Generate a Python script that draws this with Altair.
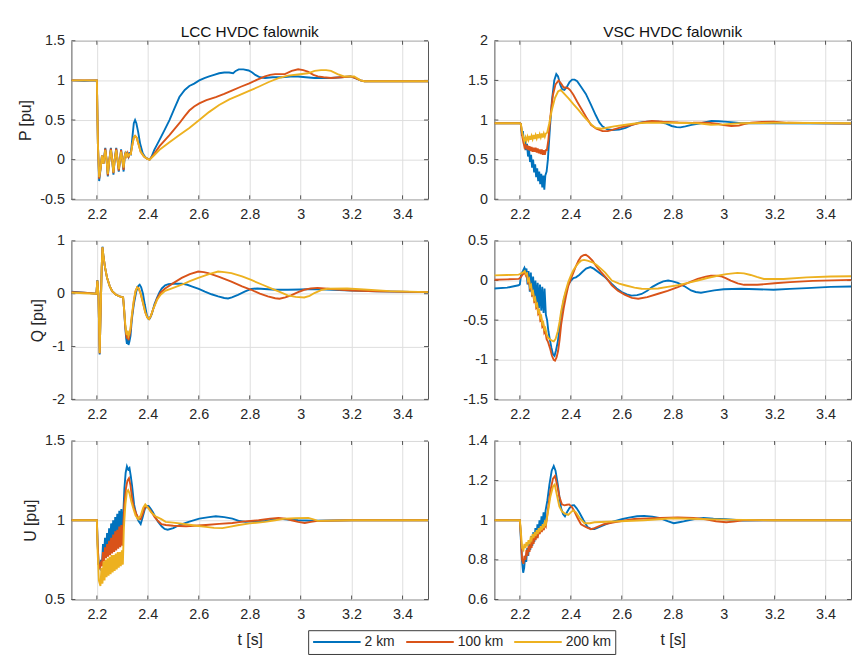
import altair as alt
import pandas as pd

# ---------------- data ----------------
SERIES = ["2 km", "100 km", "200 km"]
COLORS = ["#0072BD", "#D95319", "#EDB120"]
X_TICKS = [2.2, 2.4, 2.6, 2.8, 3.0, 3.2, 3.4]

# Active power, LCC inverter
P_LCC_2 = [(2.1,1.0),(2.15,0.995),(2.2,1.0),(2.204,0.2),(2.209,-0.27),(2.215,-0.1),(2.22,0.05),(2.226,-0.05),(2.233,0.15),(2.238,0.0),(2.243,-0.21),(2.249,0.0),(2.255,0.15),(2.26,0.0),(2.265,-0.19),(2.27,0.0),(2.276,0.15),(2.281,0.0),(2.286,-0.15),(2.291,0.0),(2.295,0.13),(2.3,0.0),(2.305,-0.15),(2.309,0.04),(2.313,0.1),(2.317,0.03),(2.321,0.09),(2.325,0.04),(2.329,0.08),(2.333,0.07),(2.34,0.3),(2.345,0.46),(2.35,0.5),(2.355,0.46),(2.362,0.35),(2.37,0.2),(2.38,0.08),(2.39,0.03),(2.4,0.01),(2.407,0.0),(2.415,0.04),(2.425,0.12),(2.446,0.25),(2.465,0.37),(2.485,0.5),(2.505,0.65),(2.524,0.79),(2.545,0.88),(2.563,0.93),(2.582,0.96),(2.602,1.0),(2.622,1.03),(2.641,1.05),(2.66,1.07),(2.68,1.09),(2.7,1.1),(2.719,1.1),(2.735,1.09),(2.745,1.12),(2.757,1.14),(2.775,1.14),(2.796,1.125),(2.81,1.1),(2.822,1.07),(2.84,1.04),(2.86,1.03),(2.89,1.04),(2.925,1.04),(2.96,1.05),(2.99,1.05),(3.02,1.04),(3.054,1.03),(3.09,1.03),(3.119,1.03),(3.16,1.04),(3.196,1.05),(3.215,1.03),(3.235,1.0),(3.25,0.99),(3.3,0.99),(3.4,0.99),(3.5,0.99)]
P_LCC_100 = [(2.1,1.0),(2.2,1.0),(2.204,0.2),(2.209,-0.24),(2.215,-0.1),(2.22,0.05),(2.226,-0.05),(2.233,0.14),(2.238,0.0),(2.243,-0.2),(2.249,0.0),(2.255,0.14),(2.26,0.0),(2.265,-0.17),(2.27,0.0),(2.276,0.14),(2.281,0.0),(2.286,-0.14),(2.291,0.0),(2.295,0.12),(2.3,0.0),(2.305,-0.13),(2.309,0.04),(2.313,0.09),(2.317,0.03),(2.321,0.08),(2.325,0.04),(2.329,0.07),(2.333,0.07),(2.34,0.2),(2.345,0.28),(2.35,0.3),(2.356,0.28),(2.363,0.2),(2.372,0.1),(2.385,0.04),(2.398,0.01),(2.407,0.0),(2.42,0.05),(2.446,0.17),(2.485,0.31),(2.524,0.46),(2.545,0.55),(2.563,0.62),(2.582,0.67),(2.602,0.71),(2.63,0.75),(2.667,0.79),(2.7,0.83),(2.732,0.875),(2.765,0.92),(2.796,0.96),(2.83,1.01),(2.86,1.05),(2.88,1.07),(2.9,1.08),(2.938,1.08),(2.965,1.12),(2.99,1.14),(3.01,1.13),(3.028,1.11),(3.05,1.07),(3.067,1.05),(3.09,1.04),(3.119,1.03),(3.16,1.04),(3.196,1.05),(3.215,1.03),(3.235,1.0),(3.25,0.99),(3.5,0.99)]
P_LCC_200 = [(2.1,1.0),(2.2,1.0),(2.204,0.2),(2.209,-0.22),(2.215,-0.1),(2.22,0.05),(2.226,-0.05),(2.233,0.12),(2.238,0.0),(2.243,-0.18),(2.249,0.0),(2.255,0.12),(2.26,0.0),(2.265,-0.16),(2.27,0.0),(2.276,0.12),(2.281,0.0),(2.286,-0.12),(2.291,0.0),(2.295,0.1),(2.3,0.0),(2.305,-0.1),(2.309,0.04),(2.313,0.08),(2.317,0.04),(2.321,0.07),(2.325,0.05),(2.329,0.07),(2.333,0.07),(2.34,0.2),(2.345,0.28),(2.35,0.3),(2.356,0.28),(2.363,0.2),(2.372,0.1),(2.385,0.04),(2.398,0.01),(2.407,0.0),(2.42,0.04),(2.446,0.125),(2.485,0.22),(2.524,0.31),(2.563,0.4),(2.602,0.5),(2.64,0.6),(2.68,0.69),(2.72,0.76),(2.757,0.81),(2.8,0.87),(2.835,0.92),(2.875,0.98),(2.913,1.03),(2.95,1.06),(2.99,1.075),(3.028,1.09),(3.055,1.12),(3.08,1.13),(3.1,1.13),(3.119,1.12),(3.145,1.08),(3.17,1.05),(3.21,1.05),(3.235,1.0),(3.25,0.99),(3.5,0.99)]

# Active power, VSC inverter
P_VSC_2 = [(2.1,0.96),(2.2,0.96),(2.204,0.95),(2.208,0.8),(2.212,0.86),(2.216,0.7),(2.22,0.78),(2.224,0.62),(2.228,0.7),(2.232,0.54),(2.236,0.63),(2.24,0.47),(2.244,0.56),(2.248,0.4),(2.252,0.5),(2.256,0.34),(2.26,0.44),(2.264,0.28),(2.268,0.39),(2.272,0.23),(2.276,0.35),(2.28,0.19),(2.284,0.32),(2.288,0.15),(2.292,0.3),(2.296,0.12),(2.3,0.3),(2.305,0.35),(2.31,0.5),(2.318,0.9),(2.326,1.25),(2.335,1.5),(2.343,1.58),(2.35,1.55),(2.358,1.45),(2.366,1.39),(2.375,1.38),(2.385,1.42),(2.395,1.48),(2.405,1.51),(2.415,1.51),(2.425,1.49),(2.44,1.42),(2.459,1.33),(2.478,1.2),(2.498,1.06),(2.512,0.97),(2.524,0.92),(2.545,0.88),(2.563,0.875),(2.59,0.88),(2.615,0.9),(2.64,0.94),(2.667,0.967),(2.7,0.98),(2.744,0.98),(2.77,0.96),(2.796,0.925),(2.815,0.91),(2.83,0.908),(2.85,0.92),(2.874,0.94),(2.91,0.96),(2.952,0.99),(2.98,0.985),(3.004,0.98),(3.04,0.97),(3.069,0.96),(3.2,0.96),(3.5,0.955)]
P_VSC_100 = [(2.1,0.96),(2.2,0.96),(2.204,0.95),(2.209,0.8),(2.214,0.72),(2.218,0.66),(2.222,0.7),(2.226,0.63),(2.23,0.68),(2.234,0.62),(2.238,0.67),(2.242,0.61),(2.246,0.66),(2.25,0.6),(2.254,0.65),(2.258,0.6),(2.262,0.65),(2.266,0.59),(2.27,0.64),(2.274,0.58),(2.278,0.63),(2.282,0.57),(2.286,0.63),(2.29,0.56),(2.294,0.62),(2.298,0.56),(2.302,0.62),(2.306,0.62),(2.312,0.75),(2.32,1.05),(2.33,1.32),(2.34,1.45),(2.352,1.5),(2.362,1.46),(2.372,1.41),(2.38,1.41),(2.39,1.4),(2.398,1.375),(2.41,1.32),(2.425,1.23),(2.44,1.15),(2.46,1.04),(2.479,0.94),(2.5,0.89),(2.518,0.87),(2.524,0.86),(2.545,0.86),(2.563,0.875),(2.6,0.91),(2.641,0.94),(2.68,0.97),(2.718,0.99),(2.76,0.98),(2.822,0.97),(2.88,0.965),(2.939,0.967),(2.98,0.95),(3.0,0.935),(3.03,0.925),(3.06,0.93),(3.08,0.95),(3.108,0.967),(3.15,0.975),(3.198,0.98),(3.25,0.965),(3.5,0.955)]
P_VSC_200 = [(2.1,0.96),(2.2,0.96),(2.204,0.95),(2.209,0.85),(2.214,0.77),(2.218,0.73),(2.222,0.78),(2.226,0.74),(2.23,0.79),(2.234,0.75),(2.238,0.8),(2.242,0.75),(2.246,0.8),(2.25,0.76),(2.254,0.81),(2.258,0.76),(2.262,0.81),(2.266,0.77),(2.27,0.82),(2.274,0.77),(2.278,0.82),(2.282,0.78),(2.286,0.83),(2.29,0.78),(2.294,0.83),(2.298,0.79),(2.302,0.83),(2.307,0.84),(2.315,0.95),(2.325,1.12),(2.338,1.28),(2.35,1.36),(2.36,1.38),(2.372,1.34),(2.392,1.27),(2.41,1.2),(2.431,1.125),(2.45,1.05),(2.47,0.98),(2.485,0.93),(2.498,0.9),(2.52,0.89),(2.537,0.9),(2.57,0.92),(2.615,0.94),(2.66,0.96),(2.718,0.967),(2.8,0.965),(2.9,0.96),(2.95,0.94),(3.0,0.945),(3.069,0.96),(3.2,0.965),(3.5,0.96)]

# Reactive power, LCC inverter
Q_LCC_2 = [(2.1,0.04),(2.15,0.02),(2.198,0.0),(2.202,0.26),(2.206,0.0),(2.211,-1.15),(2.215,-0.3),(2.219,0.5),(2.222,0.89),(2.226,0.7),(2.232,0.5),(2.24,0.3),(2.25,0.15),(2.26,0.05),(2.275,-0.02),(2.29,-0.05),(2.303,-0.07),(2.307,-0.3),(2.311,-0.6),(2.315,-0.85),(2.318,-0.95),(2.321,-0.8),(2.324,-0.97),(2.328,-0.9),(2.332,-0.8),(2.337,-0.5),(2.345,-0.2),(2.355,0.05),(2.363,0.15),(2.368,0.17),(2.374,0.12),(2.381,0.0),(2.388,-0.2),(2.396,-0.4),(2.403,-0.48),(2.408,-0.47),(2.416,-0.38),(2.426,-0.2),(2.436,-0.08),(2.446,0.03),(2.455,0.1),(2.468,0.16),(2.481,0.18),(2.5,0.19),(2.533,0.19),(2.555,0.17),(2.572,0.14),(2.6,0.09),(2.624,0.04),(2.65,-0.01),(2.676,-0.05),(2.7,-0.08),(2.715,-0.09),(2.73,-0.07),(2.754,-0.02),(2.78,0.04),(2.806,0.09),(2.83,0.1),(2.858,0.09),(2.9,0.075),(2.95,0.075),(3.0,0.08),(3.054,0.09),(3.1,0.08),(3.2,0.06),(3.3,0.045),(3.5,0.03)]
Q_LCC_100 = [(2.1,0.03),(2.15,0.02),(2.198,0.0),(2.202,0.25),(2.206,0.0),(2.211,-1.13),(2.215,-0.3),(2.219,0.5),(2.222,0.88),(2.226,0.7),(2.232,0.5),(2.24,0.3),(2.25,0.15),(2.26,0.05),(2.275,-0.02),(2.29,-0.05),(2.303,-0.07),(2.307,-0.3),(2.311,-0.6),(2.315,-0.78),(2.318,-0.85),(2.321,-0.75),(2.324,-0.88),(2.328,-0.8),(2.332,-0.7),(2.337,-0.45),(2.345,-0.15),(2.352,0.05),(2.358,0.12),(2.364,0.1),(2.372,0.0),(2.38,-0.15),(2.39,-0.35),(2.398,-0.45),(2.405,-0.48),(2.412,-0.42),(2.422,-0.28),(2.436,-0.1),(2.45,0.02),(2.468,0.1),(2.5,0.2),(2.533,0.3),(2.565,0.37),(2.598,0.42),(2.62,0.41),(2.637,0.39),(2.68,0.32),(2.728,0.23),(2.77,0.14),(2.806,0.075),(2.84,0.0),(2.871,-0.05),(2.9,-0.085),(2.917,-0.095),(2.94,-0.07),(2.962,-0.03),(2.99,0.03),(3.014,0.075),(3.04,0.1),(3.066,0.11),(3.118,0.09),(3.2,0.06),(3.3,0.045),(3.5,0.03)]
Q_LCC_200 = [(2.1,0.02),(2.15,0.01),(2.198,0.0),(2.202,0.25),(2.206,0.0),(2.211,-1.12),(2.215,-0.3),(2.219,0.5),(2.222,0.88),(2.226,0.7),(2.232,0.5),(2.24,0.3),(2.25,0.15),(2.26,0.05),(2.275,-0.02),(2.29,-0.05),(2.303,-0.07),(2.307,-0.3),(2.311,-0.55),(2.315,-0.72),(2.318,-0.78),(2.321,-0.7),(2.324,-0.8),(2.328,-0.75),(2.332,-0.65),(2.337,-0.42),(2.345,-0.12),(2.352,0.05),(2.358,0.12),(2.364,0.1),(2.372,0.0),(2.38,-0.15),(2.39,-0.35),(2.398,-0.45),(2.405,-0.48),(2.412,-0.42),(2.422,-0.28),(2.436,-0.12),(2.45,-0.02),(2.468,0.055),(2.5,0.11),(2.533,0.17),(2.565,0.24),(2.598,0.3),(2.64,0.37),(2.676,0.42),(2.7,0.41),(2.728,0.39),(2.77,0.33),(2.806,0.26),(2.85,0.17),(2.884,0.1),(2.92,0.03),(2.949,-0.03),(2.98,-0.06),(3.014,-0.07),(3.035,-0.04),(3.054,0.013),(3.08,0.07),(3.105,0.094),(3.183,0.1),(3.248,0.08),(3.35,0.05),(3.5,0.03)]

# Reactive power, VSC inverter
Q_VSC_2 = [(2.1,-0.1),(2.15,-0.09),(2.195,-0.06),(2.2,-0.05),(2.205,0.08),(2.212,0.12),(2.218,0.16),(2.222,0.12),(2.226,0.15),(2.23,-0.05),(2.234,0.12),(2.239,-0.14),(2.243,0.1),(2.248,-0.2),(2.252,0.05),(2.257,-0.25),(2.261,0.0),(2.266,-0.3),(2.27,-0.03),(2.275,-0.35),(2.279,-0.05),(2.284,-0.38),(2.288,-0.08),(2.293,-0.41),(2.297,-0.1),(2.302,-0.43),(2.307,-0.5),(2.312,-0.64),(2.318,-0.75),(2.324,-0.85),(2.33,-0.93),(2.336,-0.95),(2.342,-0.88),(2.349,-0.77),(2.356,-0.6),(2.362,-0.43),(2.372,-0.25),(2.381,-0.14),(2.39,-0.05),(2.401,0.0),(2.41,0.03),(2.42,0.04),(2.433,0.07),(2.446,0.11),(2.46,0.15),(2.477,0.17),(2.49,0.15),(2.51,0.1),(2.535,0.04),(2.56,-0.04),(2.58,-0.1),(2.6,-0.146),(2.62,-0.175),(2.639,-0.19),(2.66,-0.185),(2.678,-0.17),(2.7,-0.13),(2.72,-0.08),(2.743,-0.04),(2.763,-0.01),(2.782,0.0),(2.8,-0.01),(2.82,-0.03),(2.845,-0.07),(2.872,-0.125),(2.89,-0.145),(2.911,-0.154),(2.935,-0.14),(2.963,-0.125),(3.0,-0.11),(3.067,-0.104),(3.13,-0.11),(3.196,-0.117),(3.26,-0.105),(3.326,-0.096),(3.42,-0.08),(3.5,-0.075)]
Q_VSC_100 = [(2.1,0.01),(2.15,0.015),(2.195,0.02),(2.2,0.03),(2.205,0.05),(2.212,0.08),(2.219,0.1),(2.224,0.06),(2.228,0.08),(2.232,-0.02),(2.236,0.0),(2.24,-0.1),(2.244,-0.08),(2.248,-0.18),(2.252,-0.16),(2.256,-0.26),(2.26,-0.24),(2.264,-0.34),(2.268,-0.32),(2.272,-0.42),(2.276,-0.4),(2.28,-0.5),(2.284,-0.48),(2.288,-0.58),(2.292,-0.56),(2.296,-0.66),(2.3,-0.64),(2.305,-0.74),(2.31,-0.77),(2.318,-0.85),(2.326,-0.95),(2.333,-1.0),(2.338,-1.01),(2.344,-0.97),(2.35,-0.89),(2.356,-0.75),(2.362,-0.56),(2.372,-0.35),(2.381,-0.2),(2.39,-0.07),(2.401,0.025),(2.41,0.1),(2.42,0.18),(2.43,0.25),(2.44,0.3),(2.45,0.32),(2.459,0.325),(2.47,0.3),(2.485,0.25),(2.5,0.18),(2.518,0.11),(2.54,0.03),(2.561,-0.06),(2.585,-0.13),(2.613,-0.18),(2.64,-0.22),(2.665,-0.23),(2.7,-0.21),(2.743,-0.167),(2.78,-0.13),(2.82,-0.083),(2.86,-0.03),(2.898,0.02),(2.93,0.05),(2.95,0.06),(2.97,0.062),(2.989,0.054),(3.008,0.03),(3.028,0.0),(3.055,-0.035),(3.08,-0.054),(3.132,-0.054),(3.2,-0.035),(3.261,-0.02),(3.35,-0.005),(3.5,0.008)]
Q_VSC_200 = [(2.1,0.065),(2.15,0.07),(2.195,0.075),(2.2,0.08),(2.205,0.09),(2.212,0.1),(2.219,0.12),(2.224,0.08),(2.228,0.09),(2.232,0.0),(2.236,0.02),(2.24,-0.08),(2.244,-0.06),(2.248,-0.16),(2.252,-0.14),(2.256,-0.24),(2.26,-0.22),(2.264,-0.32),(2.268,-0.3),(2.272,-0.4),(2.276,-0.38),(2.28,-0.47),(2.284,-0.45),(2.288,-0.55),(2.292,-0.53),(2.296,-0.62),(2.3,-0.6),(2.305,-0.68),(2.31,-0.72),(2.318,-0.74),(2.326,-0.76),(2.333,-0.767),(2.34,-0.74),(2.349,-0.64),(2.356,-0.52),(2.362,-0.39),(2.372,-0.23),(2.381,-0.12),(2.39,-0.02),(2.401,0.067),(2.41,0.13),(2.42,0.18),(2.43,0.22),(2.44,0.25),(2.452,0.26),(2.465,0.25),(2.485,0.23),(2.5,0.2),(2.518,0.15),(2.535,0.1),(2.561,0.0),(2.59,-0.04),(2.613,-0.06),(2.65,-0.09),(2.678,-0.104),(2.71,-0.105),(2.743,-0.1),(2.78,-0.08),(2.82,-0.06),(2.86,-0.03),(2.898,0.0),(2.94,0.035),(2.976,0.06),(3.01,0.08),(3.054,0.096),(3.08,0.09),(3.106,0.07),(3.13,0.045),(3.158,0.02),(3.235,0.02),(3.326,0.04),(3.42,0.05),(3.5,0.054)]

# Voltage, LCC inverter
U_LCC_2 = [(2.1,1.0),(2.2,1.0),(2.203,0.85),(2.207,0.72),(2.212,0.7),(2.216,0.75),(2.22,0.72),(2.224,0.85),(2.228,0.78),(2.232,0.89),(2.236,0.8),(2.24,0.92),(2.244,0.82),(2.248,0.95),(2.252,0.84),(2.256,0.98),(2.26,0.86),(2.264,1.0),(2.268,0.87),(2.272,1.02),(2.276,0.88),(2.28,1.04),(2.284,0.89),(2.288,1.06),(2.292,0.9),(2.296,1.07),(2.3,0.92),(2.304,1.05),(2.308,1.2),(2.313,1.3),(2.318,1.34),(2.323,1.32),(2.328,1.33),(2.333,1.28),(2.338,1.22),(2.346,1.1),(2.354,1.04),(2.362,1.0),(2.372,0.976),(2.38,1.02),(2.388,1.07),(2.396,1.09),(2.403,1.09),(2.412,1.07),(2.42,1.05),(2.43,1.02),(2.44,0.99),(2.455,0.96),(2.466,0.945),(2.478,0.94),(2.5,0.95),(2.524,0.97),(2.56,0.99),(2.602,1.01),(2.64,1.02),(2.667,1.025),(2.7,1.02),(2.732,1.01),(2.76,0.995),(2.783,0.99),(2.82,0.993),(2.86,0.996),(2.913,1.01),(2.95,1.005),(2.99,1.0),(3.054,0.997),(3.2,1.0),(3.5,1.0)]
U_LCC_100 = [(2.1,1.0),(2.2,1.0),(2.203,0.85),(2.207,0.72),(2.212,0.7),(2.216,0.73),(2.22,0.71),(2.224,0.8),(2.228,0.74),(2.232,0.83),(2.236,0.76),(2.24,0.85),(2.244,0.77),(2.248,0.87),(2.252,0.78),(2.256,0.89),(2.26,0.79),(2.264,0.91),(2.268,0.8),(2.272,0.93),(2.276,0.81),(2.28,0.94),(2.284,0.82),(2.288,0.96),(2.292,0.83),(2.296,0.97),(2.3,0.84),(2.304,0.98),(2.308,1.1),(2.314,1.2),(2.32,1.25),(2.326,1.265),(2.332,1.22),(2.338,1.14),(2.345,1.08),(2.355,1.04),(2.364,1.01),(2.372,1.007),(2.38,1.04),(2.388,1.08),(2.394,1.09),(2.402,1.08),(2.415,1.05),(2.427,1.02),(2.44,0.995),(2.453,0.976),(2.471,0.97),(2.5,0.965),(2.55,0.962),(2.628,0.97),(2.68,0.977),(2.732,0.983),(2.78,0.993),(2.835,1.0),(2.88,1.01),(2.913,1.015),(2.94,1.01),(2.964,1.0),(2.99,0.99),(3.016,0.983),(3.04,0.99),(3.067,0.996),(3.2,1.0),(3.5,1.0)]
U_LCC_200 = [(2.1,1.0),(2.2,1.0),(2.203,0.8),(2.208,0.62),(2.214,0.585),(2.218,0.7),(2.222,0.6),(2.226,0.74),(2.23,0.62),(2.234,0.75),(2.238,0.64),(2.242,0.76),(2.246,0.65),(2.25,0.77),(2.254,0.66),(2.258,0.78),(2.262,0.67),(2.266,0.78),(2.27,0.68),(2.274,0.79),(2.278,0.69),(2.282,0.8),(2.286,0.7),(2.29,0.8),(2.294,0.71),(2.298,0.81),(2.302,0.72),(2.306,0.95),(2.312,1.1),(2.318,1.18),(2.323,1.19),(2.328,1.17),(2.335,1.12),(2.342,1.08),(2.352,1.03),(2.362,1.007),(2.372,1.03),(2.382,1.08),(2.39,1.1),(2.4,1.08),(2.413,1.05),(2.43,1.025),(2.453,1.007),(2.47,0.99),(2.5,0.985),(2.55,0.975),(2.59,0.965),(2.628,0.958),(2.66,0.952),(2.693,0.95),(2.72,0.958),(2.758,0.97),(2.8,0.98),(2.86,0.99),(2.9,1.0),(2.938,1.01),(2.98,1.013),(3.03,1.015),(3.05,1.005),(3.067,0.996),(3.2,1.0),(3.5,1.0)]

# Voltage, VSC inverter
U_VSC_2 = [(2.1,1.0),(2.2,1.0),(2.204,0.9),(2.208,0.8),(2.213,0.735),(2.217,0.76),(2.221,0.82),(2.225,0.79),(2.229,0.86),(2.233,0.82),(2.237,0.89),(2.241,0.85),(2.245,0.92),(2.249,0.87),(2.253,0.94),(2.257,0.89),(2.261,0.96),(2.265,0.91),(2.269,0.98),(2.273,0.93),(2.277,1.0),(2.281,0.95),(2.285,1.02),(2.289,0.97),(2.293,1.04),(2.297,0.99),(2.301,1.05),(2.308,1.1),(2.316,1.18),(2.325,1.25),(2.333,1.274),(2.34,1.25),(2.349,1.18),(2.356,1.11),(2.362,1.06),(2.37,1.03),(2.377,1.02),(2.385,1.04),(2.394,1.06),(2.405,1.075),(2.413,1.076),(2.423,1.06),(2.433,1.04),(2.45,1.0),(2.466,0.965),(2.48,0.955),(2.493,0.955),(2.52,0.97),(2.558,0.99),(2.6,1.005),(2.623,1.012),(2.66,1.02),(2.688,1.022),(2.72,1.018),(2.752,1.01),(2.78,0.995),(2.804,0.985),(2.825,0.99),(2.843,0.994),(2.88,1.005),(2.921,1.012),(2.96,1.008),(3.01,1.005),(3.075,0.999),(3.2,1.0),(3.5,1.0)]
U_VSC_100 = [(2.1,1.0),(2.2,1.0),(2.204,0.92),(2.209,0.8),(2.214,0.78),(2.218,0.82),(2.222,0.8),(2.226,0.85),(2.23,0.82),(2.234,0.87),(2.238,0.84),(2.242,0.89),(2.246,0.86),(2.25,0.91),(2.254,0.88),(2.258,0.93),(2.262,0.9),(2.266,0.94),(2.27,0.91),(2.274,0.95),(2.278,0.93),(2.282,0.96),(2.286,0.94),(2.29,0.97),(2.294,0.95),(2.298,0.98),(2.302,0.97),(2.31,1.05),(2.32,1.15),(2.33,1.21),(2.338,1.224),(2.346,1.18),(2.355,1.12),(2.365,1.08),(2.375,1.075),(2.385,1.078),(2.394,1.08),(2.405,1.065),(2.413,1.048),(2.427,1.01),(2.44,0.98),(2.46,0.965),(2.479,0.955),(2.493,0.96),(2.53,0.98),(2.57,0.99),(2.649,1.006),(2.752,1.012),(2.82,1.014),(2.882,1.012),(2.93,1.005),(2.97,0.995),(3.01,0.99),(3.04,0.993),(3.075,1.0),(3.2,1.0),(3.5,1.0)]
U_VSC_200 = [(2.1,1.0),(2.2,1.0),(2.204,0.94),(2.209,0.86),(2.214,0.85),(2.218,0.88),(2.222,0.86),(2.226,0.89),(2.23,0.87),(2.234,0.9),(2.238,0.88),(2.242,0.91),(2.246,0.9),(2.25,0.93),(2.254,0.91),(2.258,0.94),(2.262,0.92),(2.266,0.95),(2.27,0.93),(2.274,0.96),(2.278,0.94),(2.282,0.97),(2.286,0.95),(2.29,0.98),(2.294,0.96),(2.298,0.99),(2.302,0.98),(2.31,1.04),(2.32,1.12),(2.33,1.17),(2.337,1.18),(2.345,1.13),(2.355,1.07),(2.365,1.045),(2.375,1.035),(2.39,1.027),(2.4,1.04),(2.409,1.05),(2.42,1.04),(2.435,1.01),(2.454,0.985),(2.475,0.985),(2.493,0.99),(2.57,0.994),(2.688,1.0),(2.8,1.01),(2.9,1.006),(3.0,1.003),(3.2,1.0),(3.5,1.0)]

# panel definitions: (series lists, y domain, y ticks, y title, panel title, x title)
PANELS = [
    ([P_LCC_2, P_LCC_100, P_LCC_200], [-0.5, 1.5], [-0.5, 0, 0.5, 1, 1.5], "P [pu]", "LCC HVDC falownik", None),
    ([P_VSC_2, P_VSC_100, P_VSC_200], [0, 2], [0, 0.5, 1, 1.5, 2], None, "VSC HVDC falownik", None),
    ([Q_LCC_2, Q_LCC_100, Q_LCC_200], [-2, 1], [-2, -1, 0, 1], "Q [pu]", None, None),
    ([Q_VSC_2, Q_VSC_100, Q_VSC_200], [-1.5, 0.5], [-1.5, -1, -0.5, 0, 0.5], None, None, None),
    ([U_LCC_2, U_LCC_100, U_LCC_200], [0.5, 1.5], [0.5, 1, 1.5], "U [pu]", None, "t [s]"),
    ([U_VSC_2, U_VSC_100, U_VSC_200], [0.6, 1.4], [0.6, 0.8, 1, 1.2, 1.4], None, None, "t [s]"),
]

FONT = "Liberation Sans"
TXT = "#262626"
GRID = "#dedede"
FRAME = "#555555"
W, H, TL = 360, 160, 4

legend = alt.Legend(
    title=None, orient="none", direction="horizontal", legendX=239, legendY=595,
    symbolType="stroke", symbolSize=2304, symbolStrokeWidth=2, clipHeight=16,
    labelFontSize=14, labelFont=FONT, labelColor=TXT, labelOffset=3, columnPadding=10,
    strokeColor="#3a3a3a", fillColor="#ffffff", padding=4,
)


def make_panel(series_lists, ydom, yticks, ytitle, ptitle, xtitle):
    rows = []
    for name, pts in zip(SERIES, series_lists):
        for t, v in pts:
            rows.append({"t": t, "v": v, "series": name})
    df = pd.DataFrame(rows)
    xaxis = alt.Axis(
        values=X_TICKS, labelExpr="toString(datum.value)", grid=True, gridColor=GRID,
        domain=False, ticks=False, labelPadding=8, labelFontSize=14.5, labelFont=FONT,
        labelColor=TXT, labelFlush=False,
        title=xtitle if xtitle else None, titleFontSize=16, titleFont=FONT, titleColor=TXT,
        titleFontWeight="normal", titlePadding=11,
    )
    yaxis = alt.Axis(
        values=yticks, labelExpr="toString(datum.value)", grid=True, gridColor=GRID,
        domain=False, ticks=False, labelPadding=7, labelFontSize=14.5, labelFont=FONT,
        labelColor=TXT, labelFlush=False,
        title=ytitle if ytitle else None, titleFontSize=16, titleFont=FONT, titleColor=TXT,
        titleFontWeight="normal", titlePadding=6,
    )
    xs = alt.Scale(domain=[2.1, 3.5], nice=False, zero=False)
    ys = alt.Scale(domain=ydom, nice=False, zero=False)
    xenc = alt.X("t:Q", scale=xs, axis=xaxis)
    yenc = alt.Y("v:Q", scale=ys, axis=yaxis)

    # MATLAB-style inward tick marks on all four sides
    xt = pd.DataFrame({"t": X_TICKS})
    yt = pd.DataFrame({"v": yticks})
    layers = [
        alt.Chart(xt).mark_rule(color=FRAME, strokeWidth=1).encode(x=xenc, y=alt.value(0), y2=alt.value(TL)),
        alt.Chart(xt).mark_rule(color=FRAME, strokeWidth=1).encode(x=xenc, y=alt.value(H), y2=alt.value(H - TL)),
        alt.Chart(yt).mark_rule(color=FRAME, strokeWidth=1).encode(y=yenc, x=alt.value(0), x2=alt.value(TL)),
        alt.Chart(yt).mark_rule(color=FRAME, strokeWidth=1).encode(y=yenc, x=alt.value(W), x2=alt.value(W - TL)),
    ]
    for name in SERIES:
        layers.append(
            alt.Chart(df[df.series == name]).mark_line(strokeWidth=1.9, clip=True).encode(
                x=xenc,
                y=yenc,
                color=alt.Color("series:N", scale=alt.Scale(domain=SERIES, range=COLORS), legend=legend),
                order=alt.Order("t:Q"),
            )
        )
    ch = alt.layer(*layers).properties(width=W, height=H)
    if ptitle:
        ch = ch.properties(title=alt.TitleParams(ptitle, fontSize=15.5, fontWeight="normal", font=FONT,
                                                 color="#111111", offset=-8, frame="group", anchor="middle"))
    return ch


charts = [make_panel(*p) for p in PANELS]

chart = alt.concat(*charts, columns=2, spacing={"row": 42, "column": 67}, bounds="flush").properties(
    padding={"left": 9, "top": 14, "right": 0, "bottom": 5}
).configure(
    background="#ffffff", font=FONT
).configure_view(
    stroke=FRAME, strokeWidth=1
)

chart.save("out.html", embed_options={"renderer": "svg", "actions": False})
